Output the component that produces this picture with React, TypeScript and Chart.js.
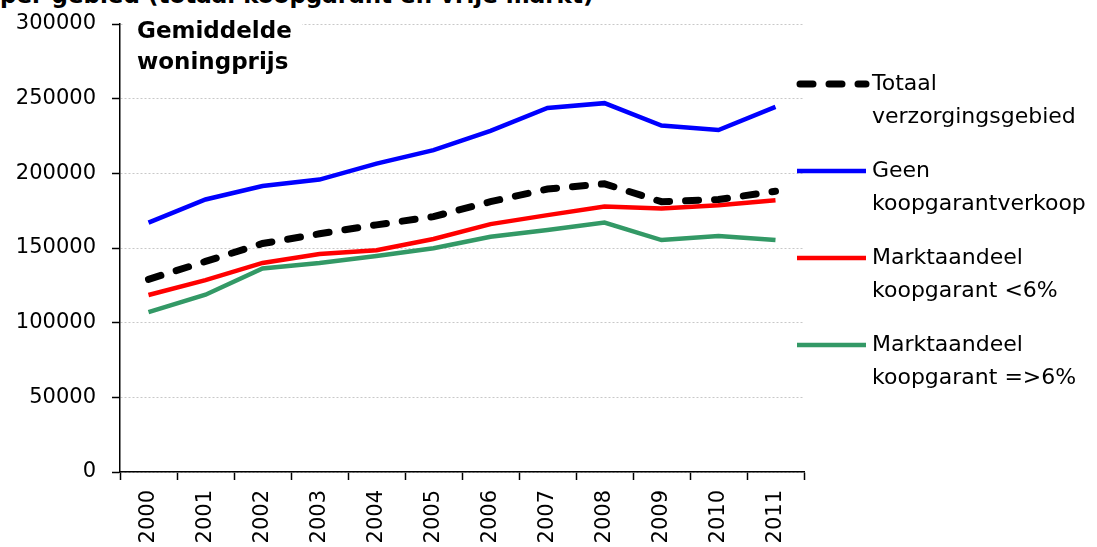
import React, { useEffect, useRef } from "react";
import { Chart, registerables } from "chart.js";

Chart.register(...registerables);

const years = ["2000", "2001", "2002", "2003", "2004", "2005", "2006", "2007", "2008", "2009", "2010", "2011"];
const totaal = [129000, 141000, 153000, 159500, 165500, 171000, 181000, 189500, 193000, 181000, 182500, 188000];
const geen = [167000, 182500, 191500, 195800, 206500, 215500, 228500, 243800, 247000, 232000, 229000, 244500];
const lt6 = [118500, 128500, 140000, 146000, 148500, 156000, 166000, 172000, 177800, 176500, 178700, 182000];
const ge6 = [107000, 118700, 136300, 140000, 144700, 149800, 157500, 162000, 167000, 155300, 158000, 155300];
const yTicks = [0, 50000, 100000, 150000, 200000, 250000, 300000];

const legendLabels = [
  ["Totaal", "verzorgingsgebied"],
  ["Geen", "koopgarantverkoop"],
  ["Marktaandeel", "koopgarant <6%"],
  ["Marktaandeel", "koopgarant =>6%"],
];
const innerLabel = ["Gemiddelde", "woningprijs"];
const topTitle = "per gebied (totaal koopgarant en vrije markt)";

const FONT = "'DejaVu Sans', Verdana, sans-serif";

const overlayPlugin = {
  id: "overlay",
  afterDraw(chart: any) {
    const ctx = chart.ctx;
    const area = chart.chartArea;
    ctx.save();
    // inner label with white box
    ctx.fillStyle = "#ffffff";
    ctx.fillRect(area.left + 4, area.top - 4, 178, 70);
    ctx.fillStyle = "#000000";
    ctx.font = `bold 23px ${FONT}`;
    ctx.textBaseline = "middle";
    ctx.textAlign = "left";
    ctx.fillText(innerLabel[0], area.left + 17, area.top + 8);
    ctx.fillText(innerLabel[1], area.left + 17, area.top + 39);

    // legend
    const ds = chart.data.datasets;
    const x0 = 797;
    const x1 = 866;
    const tx = 872;
    const y0 = 84;
    const step = 87;
    ds.forEach((d: any, i: number) => {
      const y = y0 + i * step;
      ctx.beginPath();
      ctx.strokeStyle = d.borderColor;
      ctx.lineWidth = d.borderWidth;
      ctx.lineCap = d.borderCapStyle || "butt";
      ctx.setLineDash(d.borderDash || []);
      ctx.moveTo(x0 + (d.borderDash ? 3 : 0), y);
      ctx.lineTo(x1, y);
      ctx.stroke();
      ctx.setLineDash([]);
      ctx.fillStyle = "#000000";
      ctx.font = `22px ${FONT}`;
      ctx.textBaseline = "middle";
      ctx.fillText(legendLabels[i][0], tx, y);
      ctx.fillText(legendLabels[i][1], tx, y + 33);
    });
    ctx.restore();
  },
};

export default function App() {
  const ref = useRef<HTMLCanvasElement>(null);
  useEffect(() => {
    if (!ref.current) return;
    const chart = new Chart(ref.current, {
      type: "line",
      data: {
        labels: years,
        datasets: [
          {
            label: legendLabels[0].join(" "),
            data: totaal,
            borderColor: "#000000",
            borderWidth: 7,
            borderDash: [13, 16],
            borderCapStyle: "round",
            pointRadius: 0,
            tension: 0,
          },
          {
            label: legendLabels[1].join(" "),
            data: geen,
            borderColor: "#0000ff",
            borderWidth: 4.5,
            pointRadius: 0,
            tension: 0,
          },
          {
            label: legendLabels[2].join(" "),
            data: lt6,
            borderColor: "#ff0000",
            borderWidth: 4.5,
            pointRadius: 0,
            tension: 0,
          },
          {
            label: legendLabels[3].join(" "),
            data: ge6,
            borderColor: "#339966",
            borderWidth: 4.5,
            pointRadius: 0,
            tension: 0,
          },
        ],
      },
      options: {
        animation: false,
        responsive: true,
        maintainAspectRatio: false,
        layout: { padding: { left: 0, right: 293, top: 24, bottom: 0 } },
        plugins: { legend: { display: false }, tooltip: { enabled: false }, title: { display: false } },
        scales: {
          x: {
            offset: true,
            grid: { offset: true, drawOnChartArea: false, drawTicks: true, tickLength: 8, tickColor: "#000", tickWidth: 1.5 },
            border: { color: "#000", width: 1.5 },
            ticks: {
              color: "#000",
              font: { family: FONT, size: 21 },
              minRotation: 90,
              maxRotation: 90,
              padding: 10,
            },
            afterFit: (s: any) => {
              s.height = 75;
            },
          },
          y: {
            min: 0,
            max: 300000,
            afterBuildTicks: (s: any) => {
              s.ticks = yTicks.map((v) => ({ value: v }));
            },
            grid: { color: "#c8c8c8", lineWidth: 1, tickColor: "#000", tickLength: 8, tickWidth: 1.5 },
            border: { color: "#000", width: 1.5, dash: [2, 2] },
            ticks: {
              color: "#000",
              font: { family: FONT, size: 21 },
              padding: 16,
              callback: (v: any) => String(v),
            },
            afterFit: (s: any) => {
              s.width = 120;
              s.paddingTop = 12;
              s.paddingBottom = 12;
            },
          },
        },
      },
      plugins: [overlayPlugin],
    });
    return () => chart.destroy();
  }, []);
  return (
    <div style={{ position: "fixed", left: 0, top: 0, width: 1097, height: 547, background: "#fff", overflow: "hidden" }}>
      <div
        style={{
          position: "absolute",
          left: 0,
          top: -18,
          fontFamily: FONT,
          fontWeight: "bold",
          fontSize: 23,
          whiteSpace: "nowrap",
          color: "#000",
        }}
      >
        {topTitle}
      </div>
      <canvas ref={ref} style={{ position: "absolute", left: 0, top: 0 }} />
    </div>
  );
}
